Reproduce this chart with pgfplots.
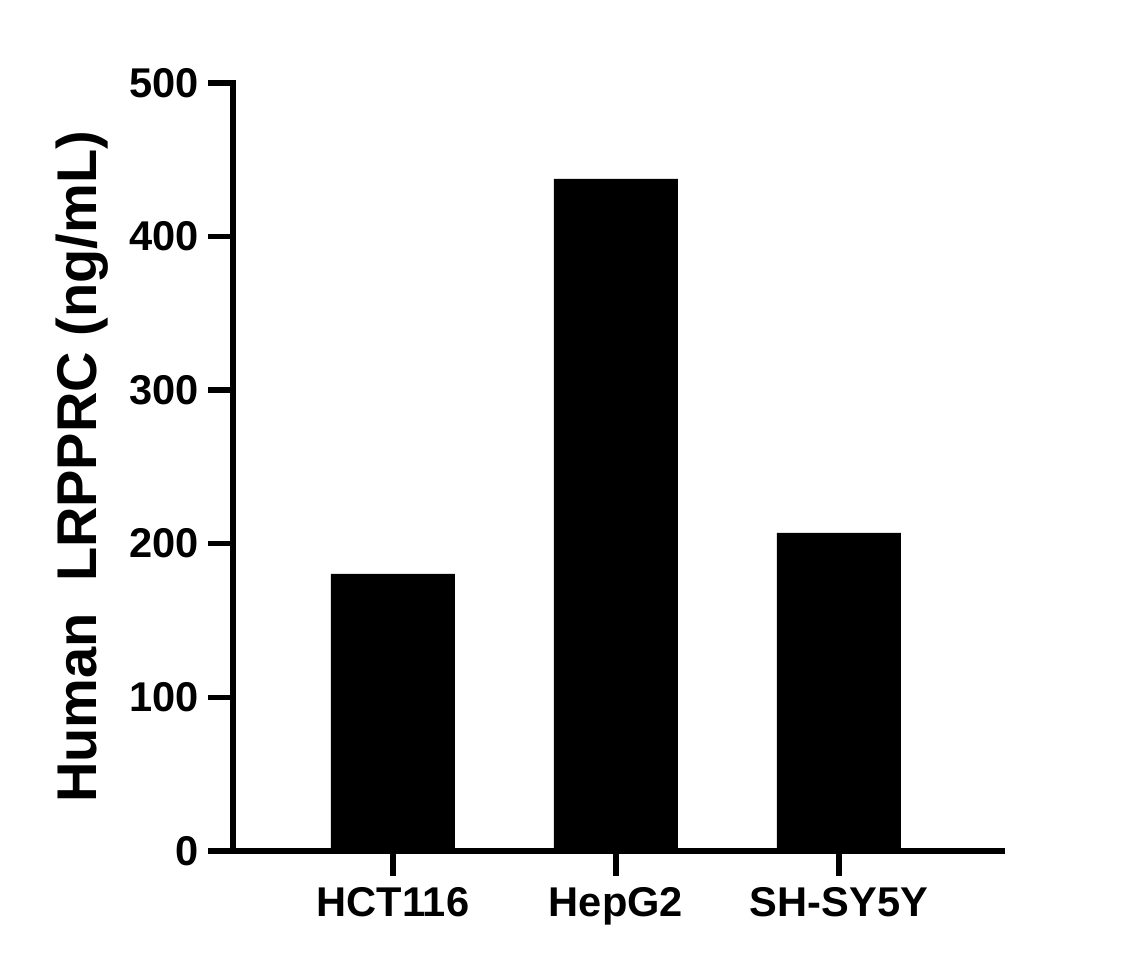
\documentclass[border=0pt]{standalone}
\usepackage{fontspec}
\setmainfont{Liberation Sans}
\usepackage{pgfplots}
\pgfplotsset{compat=1.18}
\begin{document}
\begin{tikzpicture}
\begin{axis}[
  scale only axis,
  width=384.5pt, height=384pt,
  xmin=-0.717, xmax=2.731,
  ymin=0, ymax=500,
  axis x line*=bottom, axis y line*=left,
  axis line style={line width=2.75pt, line cap=rect},
  every tick/.style={line width=2.75pt, black},
  tick align=outside,
  major tick length=12.5pt,
  xtick={0,1,2},
  xticklabels={HCT116, HepG2, SH-SY5Y},
  ytick={0,100,200,300,400,500},
  /pgf/number format/assume math mode=true,
  tick label style={font=\bfseries\fontsize{20.8}{24}\selectfont},
  xticklabel style={yshift=-2.5pt},
  yticklabel style={xshift=-1pt},
  ylabel={Human\ \ LRPPRC (ng/mL)},
  ylabel style={font=\bfseries\fontsize{28}{32}\selectfont, at={(rel axis cs:-0.177,0.5)}, anchor=base, rotate=0},
  clip=false,
]
\addplot[ybar, bar width=62pt, fill=black, draw=none] coordinates {(0,180.3) (1,437.5) (2,207.0)};
\coordinate (bl) at (rel axis cs:-0.303,-0.151);
\coordinate (tr) at (rel axis cs:1.177,1.108);
\end{axis}
\pgfresetboundingbox
\path[use as bounding box] (bl) rectangle (tr);
\end{tikzpicture}
\end{document}
